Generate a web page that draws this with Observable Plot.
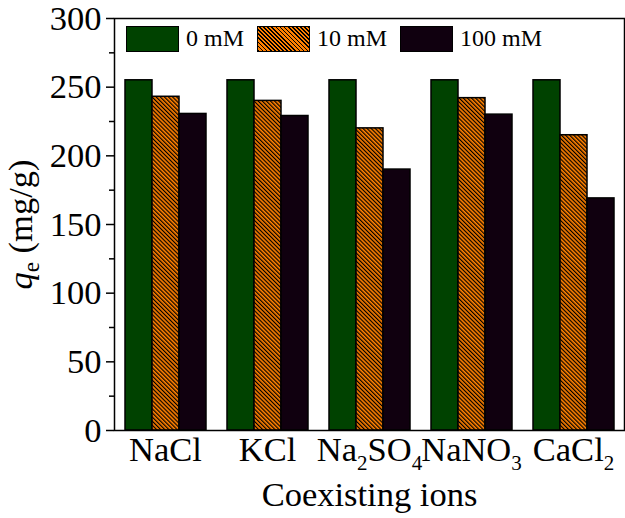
<!DOCTYPE html>
<html>
<head>
<meta charset="utf-8">
<script src="https://cdn.jsdelivr.net/npm/d3@7"></script>
<script src="https://cdn.jsdelivr.net/npm/@observablehq/plot@0.6"></script>
<style>
  body { margin: 0; background: white; }
  #wrap { position: relative; width: 625px; height: 518px; font-family: "Liberation Serif", "Times New Roman", serif; }
  #legend { position: absolute; left: 126px; top: 25px; display: flex; align-items: center; font-size: 24px; }
  .item { display: flex; align-items: center; margin-right: 13px; }
  .sw { width: 51px; height: 24px; border: 1.5px solid #000; }
  .lab { margin-left: 7px; }
</style>
</head>
<body>
<div id="wrap"><div id="legend"></div></div>
<script>
const ions = ["NaCl", "KCl", "Na2SO4", "NaNO3", "CaCl2"];
const concentrations = ["0 mM", "10 mM", "100 mM"];
const q0 = [255, 255, 255, 255, 255];
const q10 = [243, 240, 220, 242, 215];
const q100 = [230.5, 229, 190, 230, 169];
const majorTicks = [0, 50, 100, 150, 200, 250, 300];
const minorTicks = [25, 75, 125, 175, 225, 275];
const colors = ["#004200", "url(#hatch)", "#10000f"];
const legendFills = ["#004200", "repeating-linear-gradient(45deg, #000 0 1.2px, #ff8000 1.2px 2.9px)", "#10000f"];

const series = [q0, q10, q100];
const rows = ions.flatMap((ion, i) => concentrations.map((c, j) => ({ion, conc: c, q: series[j][i]})));

const chart = Plot.plot({
  width: 625, height: 518,
  marginLeft: 113, marginRight: 1, marginTop: 18, marginBottom: 88,
  style: {fontFamily: '"Liberation Serif","Times New Roman",serif', fontSize: "34.5px", background: "white", color: "black", overflow: "visible"},
  fx: {domain: ions, padding: 0},
  x: {domain: concentrations, paddingInner: 0, paddingOuter: 0.35, axis: null},
  y: {domain: [0, 300]},
  color: {domain: concentrations, range: colors},
  marks: [
    Plot.barY(rows, {fx: "ion", x: "conc", y: "q", fill: "conc", stroke: "black", strokeWidth: 1.5}),
    Plot.frame({facet: "super", stroke: "black", strokeWidth: 1.5}),
    Plot.axisY(majorTicks, {tickSize: 8, tickPadding: 5, strokeWidth: 1.5, label: "q_e (mg/g)", labelAnchor: "center", labelOffset: 107}),
    Plot.axisY(minorTicks, {tickSize: 5, strokeWidth: 1.5, text: null, label: null}),
    Plot.axisFx({anchor: "bottom", tickSize: 0, tickPadding: 6, label: "Coexisting ions", labelAnchor: "center", labelOffset: 75})
  ]
});

// pattern for the hatched series
const ns = "http://www.w3.org/2000/svg";
const svg = chart.tagName.toLowerCase() === "svg" ? chart : chart.querySelector("svg");
const defs = document.createElementNS(ns, "defs");
defs.innerHTML = '<pattern id="hatch" patternUnits="userSpaceOnUse" width="2.9" height="2.9" patternTransform="rotate(-45)">' +
  '<rect width="2.9" height="2.9" fill="#ff8000"/><rect width="1.2" height="2.9" fill="#000"/></pattern>';
svg.insertBefore(defs, svg.firstChild);

// subscripts in tick labels
svg.querySelectorAll('g[aria-label="fx-axis tick label"] text').forEach(t => {
  const parts = t.textContent.match(/[0-9]+|[^0-9]+/g);
  let html = "", low = false;
  parts.forEach(p => {
    if (/^[0-9]+$/.test(p)) { html += `<tspan dy="9" font-size="21">${p}</tspan>`; low = true; }
    else if (low) { html += `<tspan dy="-9">${p}</tspan>`; low = false; }
    else html += p;
  });
  t.innerHTML = html;
});
svg.querySelectorAll('g[aria-label="y-axis label"] text').forEach(t => {
  t.innerHTML = '<tspan font-style="italic">q</tspan><tspan dy="7" font-size="23">e</tspan><tspan dy="-7"> (mg/g)</tspan>';
});

const wrap = document.getElementById("wrap");
wrap.insertBefore(chart, wrap.firstChild);

const legend = document.getElementById("legend");
concentrations.forEach((c, j) => {
  const it = document.createElement("div");
  it.className = "item";
  it.innerHTML = `<div class="sw" style="background:${legendFills[j]}"></div><span class="lab">${c}</span>`;
  legend.appendChild(it);
});
</script>
</body>
</html>
